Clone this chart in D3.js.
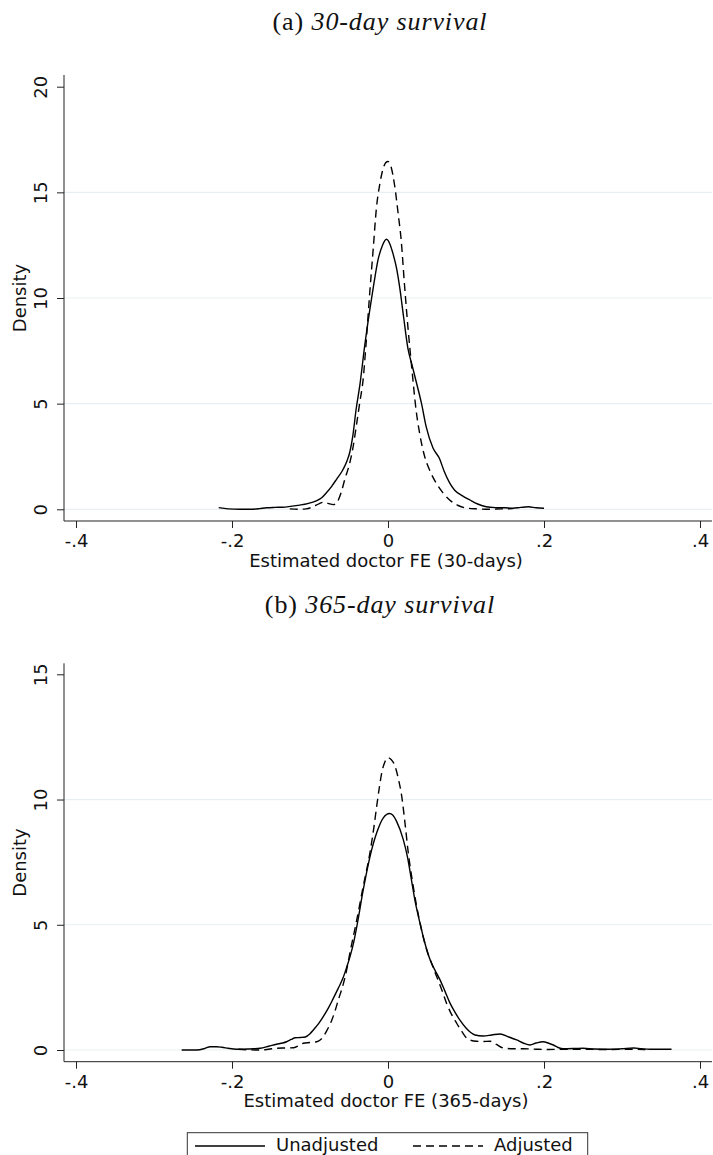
<!DOCTYPE html>
<html>
<head>
<meta charset="utf-8">
<script src="https://cdn.jsdelivr.net/npm/d3@7"></script>
<style>
  body { margin: 0; background: #fff; }
  svg { display: block; }
  text { font-family: "DejaVu Sans", sans-serif; fill: #111; }
  .title { font-family: "Liberation Serif", "DejaVu Serif", serif; }
</style>
</head>
<body>
<div id="chart"></div>
<script>
// x positions of tick marks and their labels (shared by both panels)
const xTicks = [-0.4, -0.2, 0, 0.2, 0.4];
const xTickLabels = ["-.4", "-.2", "0", ".2", ".4"];

// panel (a): 30-day survival, kernel density [FE, density]
const unadj30 = [
  [-0.217, 0.08], [-0.205, 0.02], [-0.19, 0], [-0.177, 0], [-0.165, 0.03], [-0.156, 0.07],
  [-0.145, 0.09], [-0.135, 0.1], [-0.125, 0.14], [-0.113, 0.2], [-0.103, 0.27], [-0.092, 0.4],
  [-0.085, 0.55], [-0.079, 0.78], [-0.072, 1.1], [-0.066, 1.42], [-0.058, 1.86], [-0.053, 2.25],
  [-0.049, 2.7], [-0.045, 3.5], [-0.041, 4.7], [-0.036, 5.9], [-0.030, 7.7], [-0.0235, 9.4],
  [-0.018, 10.7], [-0.0128, 11.8], [-0.007, 12.5], [-0.002, 12.78], [0.003, 12.5], [0.0064, 12.1],
  [0.011, 11.4], [0.015, 10.5], [0.020, 9.1], [0.0256, 7.6], [0.031, 6.8], [0.0364, 6.0],
  [0.043, 5.0], [0.049, 3.9], [0.0577, 2.9], [0.066, 2.4], [0.072, 1.8], [0.079, 1.25],
  [0.0855, 0.9], [0.095, 0.65], [0.105, 0.44], [0.115, 0.25], [0.126, 0.12], [0.138, 0.08],
  [0.15, 0.07], [0.16, 0.05], [0.17, 0.09], [0.18, 0.12], [0.19, 0.07], [0.2, 0.05]
];
const adj30 = [
  [-0.126, 0.02], [-0.115, 0], [-0.105, 0.02], [-0.096, 0.12], [-0.088, 0.27], [-0.083, 0.33],
  [-0.077, 0.28], [-0.07, 0.22], [-0.065, 0.35], [-0.06, 0.8], [-0.0555, 1.4], [-0.049, 2.2],
  [-0.045, 2.9], [-0.040, 4.1], [-0.036, 5.1], [-0.032, 6.1], [-0.028, 7.9], [-0.0235, 10.2],
  [-0.019, 12.3], [-0.015, 14.2], [-0.0105, 15.4], [-0.0064, 16.1], [-0.003, 16.4], [0, 16.46],
  [0.004, 16.2], [0.0086, 15.3], [0.013, 14.0], [0.017, 12.7], [0.021, 10.7], [0.0256, 8.6],
  [0.031, 6.5], [0.036, 4.7], [0.041, 3.5], [0.047, 2.5], [0.054, 1.8], [0.062, 1.23],
  [0.07, 0.8], [0.079, 0.44], [0.09, 0.18], [0.1, 0.06], [0.115, 0.02], [0.13, 0],
  [0.145, 0.02], [0.16, 0.03]
];

// panel (b): 365-day survival
const unadj365 = [
  [-0.2645, 0], [-0.245, 0], [-0.235, 0.06], [-0.228, 0.13], [-0.22, 0.13], [-0.213, 0.11],
  [-0.205, 0.07], [-0.198, 0.04], [-0.19, 0.03], [-0.181, 0.04], [-0.172, 0.05], [-0.164, 0.07],
  [-0.153, 0.15], [-0.143, 0.23], [-0.135, 0.28], [-0.130, 0.33], [-0.124, 0.42], [-0.119, 0.49],
  [-0.112, 0.5], [-0.106, 0.52], [-0.1, 0.65], [-0.0957, 0.8], [-0.089, 1.05], [-0.083, 1.33],
  [-0.076, 1.7], [-0.070, 2.07], [-0.064, 2.45], [-0.058, 2.85], [-0.053, 3.3], [-0.0487, 3.73],
  [-0.044, 4.3], [-0.040, 4.93], [-0.0317, 6.4], [-0.023, 7.73], [-0.0145, 8.67], [-0.006, 9.27],
  [0.002, 9.44], [0.006, 9.38], [0.011, 9.13], [0.0196, 8.4], [0.025, 7.7], [0.030, 6.8],
  [0.035, 5.9], [0.041, 5.07], [0.047, 4.3], [0.054, 3.6], [0.06, 3.2], [0.0667, 2.8],
  [0.073, 2.35], [0.0795, 1.87], [0.086, 1.5], [0.092, 1.2], [0.1, 0.88], [0.106, 0.7],
  [0.1115, 0.6], [0.122, 0.56], [0.133, 0.6], [0.1436, 0.64], [0.155, 0.52], [0.165, 0.4],
  [0.174, 0.27], [0.182, 0.2], [0.19, 0.28], [0.199, 0.33], [0.206, 0.27], [0.212, 0.2],
  [0.218, 0.1], [0.225, 0.05], [0.24, 0.06], [0.25, 0.07], [0.265, 0.04], [0.284, 0.03],
  [0.3, 0.05], [0.315, 0.08], [0.325, 0.05], [0.336, 0.03], [0.35, 0.03], [0.3635, 0.03]
];
const adj365 = [
  [-0.192, 0.03], [-0.18, 0.01], [-0.164, 0], [-0.153, 0.03], [-0.143, 0.07], [-0.131, 0.08],
  [-0.121, 0.09], [-0.114, 0.18], [-0.1086, 0.27], [-0.1, 0.3], [-0.0915, 0.33], [-0.087, 0.4],
  [-0.083, 0.53], [-0.078, 0.8], [-0.072, 1.2], [-0.068, 1.55], [-0.0637, 2.0], [-0.057, 2.67],
  [-0.053, 3.2], [-0.0487, 3.9], [-0.040, 5.2], [-0.032, 6.5], [-0.023, 7.9], [-0.0185, 8.8],
  [-0.0145, 9.73], [-0.011, 10.5], [-0.008, 11.07], [-0.004, 11.5], [0, 11.67], [0.004, 11.6],
  [0.009, 11.33], [0.0135, 10.8], [0.0176, 10.13], [0.022, 9.0], [0.026, 7.87], [0.031, 6.8],
  [0.0368, 5.73], [0.043, 4.8], [0.0496, 4.0], [0.056, 3.45], [0.0624, 2.93], [0.069, 2.4],
  [0.075, 1.87], [0.081, 1.45], [0.088, 1.07], [0.095, 0.72], [0.101, 0.47], [0.107, 0.38],
  [0.1137, 0.35], [0.122, 0.34], [0.1308, 0.35], [0.139, 0.22], [0.148, 0.08], [0.16, 0.05],
  [0.173, 0.05], [0.19, 0.03], [0.205, 0.02], [0.225, 0.03], [0.25, 0.03], [0.28, 0.02],
  [0.31, 0.03], [0.33, 0.02]
];

const yTicks30 = [0, 5, 10, 15, 20];
const yTicks365 = [0, 5, 10, 15];
const legendLabels = ["Unadjusted", "Adjusted"];

const W = 713, H = 1155;
const DASH = "8,5";
const gridColor = "#e8eff2";

const svg = d3.select("#chart").append("svg")
  .attr("width", W)
  .attr("height", H);

const x = d3.scaleLinear().domain([-0.4, 0.4]).range([76, 700]);

const panels = [
  { label: "(a)", sub: "30-day survival", titleY: 30, top: 75, bottom: 521,
    yMax: 20, yRange: [509.3, 86.7], ticks: yTicks30, series: [unadj30, adj30],
    xTitle: "Estimated doctor FE (30-days)" },
  { label: "(b)", sub: "365-day survival", titleY: 613, top: 663.3, bottom: 1061.7,
    yMax: 15, yRange: [1050, 674.3], ticks: yTicks365, series: [unadj365, adj365],
    xTitle: "Estimated doctor FE (365-days)" }
];

const left = 64, right = 712;

panels.forEach(p => {
  const y = d3.scaleLinear().domain([0, p.yMax]).range(p.yRange);
  const g = svg.append("g");

  // title
  const t = g.append("text")
    .attr("class", "title")
    .attr("x", 380)
    .attr("y", p.titleY)
    .attr("text-anchor", "middle")
    .style("font-size", "26px")
    .style("letter-spacing", "0.9px");
  t.append("tspan").text(p.label + " ");
  t.append("tspan").style("font-style", "italic").text(p.sub);

  // gridlines (not at the top tick)
  g.selectAll(".grid")
    .data(p.ticks.slice(0, -1))
    .enter()
    .append("line")
    .attr("x1", left)
    .attr("x2", right)
    .attr("y1", d => y(d))
    .attr("y2", d => y(d))
    .attr("stroke", gridColor)
    .attr("stroke-width", 1.2);

  // y axis
  const yAxis = d3.axisLeft(y).tickValues(p.ticks).tickSize(7).tickFormat(d3.format("d"));
  const ya = g.append("g")
    .attr("transform", `translate(${left},0)`)
    .call(yAxis);
  ya.select(".domain").remove();
  ya.selectAll(".tick line").attr("stroke", "#222");
  ya.selectAll("text")
    .attr("x", null)
    .attr("dy", null)
    .attr("text-anchor", "middle")
    .attr("transform", "translate(-17,0) rotate(-90)")
    .style("font-size", "18px")
    .style("font-family", "DejaVu Sans");
  g.append("line")
    .attr("x1", left).attr("x2", left)
    .attr("y1", p.top).attr("y2", p.bottom)
    .attr("stroke", "#222");

  // x axis
  const xAxis = d3.axisBottom(x).tickValues(xTicks).tickSize(7)
    .tickFormat((d, i) => xTickLabels[i]);
  const xa = g.append("g")
    .attr("transform", `translate(0,${p.bottom})`)
    .call(xAxis);
  xa.select(".domain").remove();
  xa.selectAll(".tick line").attr("stroke", "#222");
  xa.selectAll("text")
    .attr("y", 26)
    .attr("dy", null)
    .style("font-size", "18px")
    .style("font-family", "DejaVu Sans");
  g.append("line")
    .attr("x1", left).attr("x2", right)
    .attr("y1", p.bottom).attr("y2", p.bottom)
    .attr("stroke", "#222");

  // axis titles
  g.append("text")
    .attr("x", 386)
    .attr("y", p.bottom + 45.5)
    .attr("text-anchor", "middle")
    .style("font-size", "18px")
    .text(p.xTitle);
  g.append("text")
    .attr("transform", `translate(26,${(p.top + p.bottom) / 2}) rotate(-90)`)
    .attr("text-anchor", "middle")
    .style("font-size", "18px")
    .text("Density");

  // density curves
  const line = d3.line()
    .x(d => x(d[0]))
    .y(d => y(d[1]))
    .curve(d3.curveMonotoneX);
  g.selectAll(".curve")
    .data(p.series)
    .enter()
    .append("path")
    .attr("d", line)
    .attr("fill", "none")
    .attr("stroke", "#000")
    .attr("stroke-width", 1.4)
    .attr("stroke-dasharray", (d, i) => i === 1 ? DASH : null);
});

// legend
const lg = svg.append("g");
lg.append("rect")
  .attr("x", 187.3).attr("y", 1132.7)
  .attr("width", 400.4).attr("height", 40)
  .attr("fill", "#fff")
  .attr("stroke", "#333")
  .attr("stroke-width", 1);
const legendX = [195, 413];
legendLabels.forEach((lab, i) => {
  lg.append("line")
    .attr("x1", legendX[i]).attr("x2", legendX[i] + 70)
    .attr("y1", 1146).attr("y2", 1146)
    .attr("stroke", "#000")
    .attr("stroke-width", 1.4)
    .attr("stroke-dasharray", i === 1 ? DASH : null);
  lg.append("text")
    .attr("x", legendX[i] + 81)
    .attr("y", 1151)
    .style("font-size", "18px")
    .text(lab);
});
</script>
</body>
</html>
